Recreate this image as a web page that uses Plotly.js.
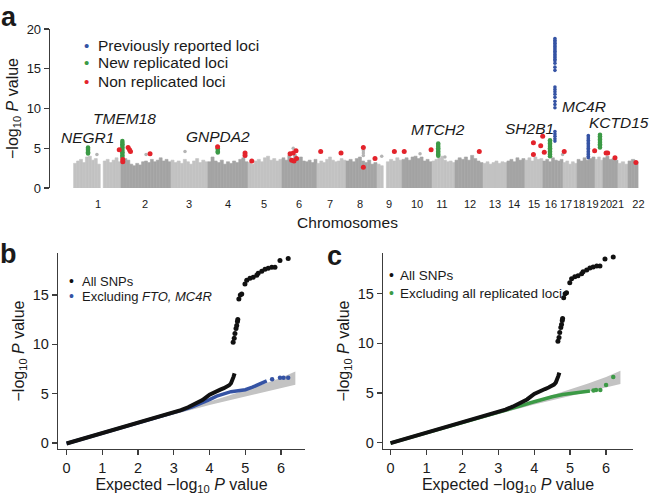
<!DOCTYPE html>
<html><head><meta charset="utf-8">
<script src="https://cdn.plot.ly/plotly-3.0.1.min.js"></script>
<style>html,body{margin:0;padding:0;background:#fff}#chart{width:650px;height:501px}</style>
</head><body><div id="chart"></div>
<script>
// ---------- Panel a: Manhattan plot (cumulative genome position, Mb) ----------
const chromNames = ['1','2','3','4','5','6','7','8','9','10','11','12','13','14','15','16','17','18','19','20','21','22'];
const chromStartMb = [0,240,493,680,883,1055,1232,1379,1536,1663,1815,1931,2073,2194,2285,2376,2478,2549,2640,2680,2756,2807];
const chromEndMb   = [240,493,680,883,1055,1232,1379,1536,1663,1815,1931,2073,2194,2285,2376,2478,2549,2640,2680,2756,2807,2858];
const chromLabelMb = [124,362,584,782,964,1141,1298,1450,1597,1739,1865,2007,2133,2230,2331,2417,2493,2559,2627,2696,2756,2860];
// upper envelope of the dense grey SNP cloud, read left to right within each chromosome (null = no SNPs)
const chromTopValues = [
  [3.1,3.4,3.6,3.2,3.9,4.0,3.5,3.7,3.0,null,3.4,3.6,3.2,3.5,3.8,3.3],
  [3.9,3.7,3.5,3.0,2.8,3.1,2.9,3.3,3.4,3.2,3.6,3.3,3.5,3.8,3.4,3.6,3.3],
  [3.5,3.2,3.4,3.1,3.6,3.3,3.0,3.4,3.7,3.2,3.5,3.3],
  [3.3,3.9,3.4,3.2,3.5,3.0,3.3,3.1,3.4,3.2,3.6,3.8,3.3],
  [3.2,3.0,3.4,3.6,3.3,3.8,4.0,3.5,3.7,3.4,3.6],
  [3.8,3.5,4.1,3.7,4.2,3.6,3.9,3.4,3.3,3.5,3.2,3.6],
  [3.1,3.4,3.2,3.6,3.9,3.5,3.3,3.4,3.7,3.5],
  [3.4,3.6,3.3,3.7,3.9,3.4,3.2,3.5,3.0,3.2],
  [3.0,2.8,null,3.3,3.6,3.4,3.8,3.5],
  [3.6,3.8,3.5,3.9,4.0,3.7,3.9,3.4,3.6,3.3],
  [3.4,3.6,3.8,4.0,3.5,3.3,3.4,3.2],
  [3.5,3.8,3.6,3.9,3.5,4.1,3.7,3.4,3.2],
  [3.1,3.3,3.0,3.2,3.4,3.1,3.3,3.2],
  [3.4,3.6,3.3,3.8,3.5,3.7],
  [3.5,3.8,3.4,3.9,3.6,3.7],
  [3.4,3.6,3.3,3.8,3.5,3.4,3.6],
  [3.2,3.4,3.0,3.3,3.1],
  [3.6,3.4,3.8,3.5,3.7,3.9],
  [3.6,3.9,3.5],
  [3.8,4.0,3.6,3.7,3.5],
  [3.1,3.3,3.0],
  [3.4,3.6,3.3]
];
const otherSnpMb   = [118,367,564,1112,1467,1467,1467,1560,1754,1880,2476];
const otherSnpLogP = [4.2,4.2,4.6,5.0,4.7,4.4,4.1,4.0,4.3,3.9,4.2];

// previously reported loci (blue)
const prevLociNames = ['FTO','MC4R'];
const prevLociMb = [2437, 2606];
const prevLociLogP = [
  [18.8,18.6,18.4,18.2,18.0,17.8,17.6,17.4,17.2,17.0,16.8,16.6,16.4,16.2,16.0,15.7,15.2,14.8,12.7,12.4,12.1,11.8,11.4,10.9,10.5,10.1,7.1,6.8,6.5,6.2,5.9],
  [6.6,6.4,6.2,6.0,5.8,5.6,5.4,5.2,5.0,4.8,4.6,4.4,4.2,4.0,3.8]
];
// new replicated loci (green)
const newLociNames = ['NEGR1','TMEM18','GNPDA2','MTCH2','SH2B1','KCTD15'];
const newLociMb = [73, 247, 730, 1846, 2412, 2665];
const newLociLogP = [
  [5.1,4.95,4.8,4.65,4.5,4.35],
  [5.9,5.7,5.5,5.3,5.1,4.9,4.7,4.5,4.3,4.1,3.9],
  [5.0,4.8,4.6,4.45],
  [5.6,5.4,5.2,5.0,4.8,4.6,4.4,4.2,4.05],
  [6.0,5.8,5.6,5.4,5.2,5.0,4.8,4.6,4.4,4.2,4.0],
  [6.7,6.5,6.3,6.1,5.9,5.7,5.5,5.3,5.1]
];
// non replicated loci (red)
const nonRepMb   = [231,249,249,276,283,288,387,729,868,868,902,1096,1104,1112,1116,1126,1129,1251,1354,1467,1467,1526,1624,1674,1810,2054,2328,2328,2365,2375,2383,2484,2638,2696,2704,2741,2847];
const nonRepLogP = [4.8,3.6,3.3,5.1,4.8,4.6,4.3,5.2,4.4,4.1,3.4,4.3,3.5,4.4,3.4,4.7,3.7,4.6,4.4,5.1,2.6,3.7,4.6,4.6,4.8,4.6,5.7,4.2,5.3,6.5,4.5,4.6,4.7,4.4,4.4,3.8,3.2];
// gene labels
const geneLabels    = ['NEGR1','TMEM18','GNPDA2','MTCH2','SH2B1','FTO','MC4R','KCTD15'];
const geneLabelMb   = [68, 260, 731, 1845, 2306, 2425, 2584, 2761];
const geneLabelLogP = [6.4, 8.8, 6.5, 7.3, 7.5, 21.1, 10.2, 8.2];

// ---------- Panels b, c: QQ plots ----------
const qqAllX = [0,0.5,1,1.5,2,2.5,3,3.2,3.4,3.6,3.8,4.0,4.1,4.2,4.3,4.4,4.5,4.55,4.6,4.64,4.67,4.7];
const qqAllY = [-0.05,0.48,0.98,1.48,1.98,2.5,3.03,3.33,3.62,3.95,4.35,4.9,5.1,5.25,5.4,5.55,5.7,5.85,6.05,6.35,6.7,7.05];
const qqAllTopX = [4.66,4.69,4.71,4.74,4.76,4.78,4.79,4.82,4.86,4.9,4.99,5.04,5.13,5.22,5.32,5.36,5.46,5.55,5.64,5.74,5.83,5.97,6.2];
const qqAllTopY = [10.2,10.6,11.1,11.6,11.9,12.3,12.5,14.6,15.0,15.1,16.1,16.5,16.7,16.8,17.0,17.2,17.4,17.6,17.7,17.8,17.8,18.5,18.7];
const qqExclFtoX = [0,1,2,3,3.3,3.5,3.7,3.9,4.0,4.2,4.4,4.6,4.8,5.0,5.2,5.4,5.6];
const qqExclFtoY = [-0.05,0.98,1.98,3.03,3.4,3.63,3.92,4.22,4.4,4.75,5.0,5.2,5.3,5.4,5.65,6.0,6.3];
const qqExclFtoTailX = [5.75,5.97,6.07,6.2];
const qqExclFtoTailY = [6.45,6.6,6.6,6.6];
const qqExclRepX = [0,1,2,3,3.3,3.6,3.9,4.2,4.5,4.8,5.1,5.4,5.55];
const qqExclRepY = [-0.05,0.98,1.98,3.0,3.33,3.68,4.02,4.33,4.62,4.85,5.02,5.15,5.2];
const qqExclRepTailX = [5.65,5.72,5.84,6.0,6.2];
const qqExclRepTailY = [5.25,5.3,5.3,5.8,6.6];
const ciX     = [0,1,2,2.5,3,3.5,4,4.5,5,5.5,6,6.4];
const ciLower = [0,0.97,1.95,2.44,2.92,3.38,3.84,4.28,4.7,5.1,5.5,5.9];
const ciUpper = [0,1.03,2.06,2.58,3.1,3.64,4.2,4.76,5.34,5.95,6.6,7.25];

// ---------- styles ----------
const FONT = 'Liberation Sans, Arial, Helvetica, sans-serif';
const AX = '#3c3c3c';
const BLUE = '#3553a4', GREEN = '#3c9a46', RED = '#e3232b', BLACK = '#111111';
const LIGHT = '#c2c2c2', DARK = '#a4a4a4', BAND = '#c3c3c3';
const W = 650, H = 501;
const px = v => v / W, py = v => 1 - v / H;

const traces = [];
// grey cloud as bars
chromTopValues.forEach((vals, i) => {
  const w = (chromEndMb[i] - chromStartMb[i]) / vals.length;
  const xs = vals.map((_, j) => chromStartMb[i] + (j + 0.5) * w);
  const col = (i % 2 === 0) ? LIGHT : DARK;
  traces.push({type:'bar', x:xs, y:vals, width:w, xaxis:'x', yaxis:'y',
    marker:{color:col, line:{color:col, width:0.6}}, hoverinfo:'skip', showlegend:false});
});
traces.push({type:'scatter', mode:'markers', x:otherSnpMb, y:otherSnpLogP, xaxis:'x', yaxis:'y',
  marker:{color:'#b4b4b4', size:3.5}, hoverinfo:'skip', showlegend:false});
function locusTrace(mbs, lists, color, size) {
  const xs = [], ys = [];
  lists.forEach((l, i) => l.forEach(v => { xs.push(mbs[i]); ys.push(v); }));
  return {type:'scatter', mode:'markers', x:xs, y:ys, xaxis:'x', yaxis:'y',
    marker:{color:color, size:size}, showlegend:false, cliponaxis:false};
}
traces.push(locusTrace(newLociMb, newLociLogP, GREEN, 4.5));
traces.push({type:'scatter', mode:'markers', x:nonRepMb, y:nonRepLogP, xaxis:'x', yaxis:'y',
  marker:{color:RED, size:5}, showlegend:false});
traces.push(locusTrace(prevLociMb, prevLociLogP, BLUE, 3.6));

// QQ panels
function qqTraces(xa, ya, exX, exY, exTX, exTY, col) {
  return [
    {type:'scatter', mode:'lines', x:ciX, y:ciLower, xaxis:xa, yaxis:ya, line:{width:0, color:BAND}, hoverinfo:'skip', showlegend:false},
    {type:'scatter', mode:'lines', x:ciX, y:ciUpper, xaxis:xa, yaxis:ya, fill:'tonexty', fillcolor:BAND, line:{width:0, color:BAND}, hoverinfo:'skip', showlegend:false},
    {type:'scatter', mode:'lines', x:exX, y:exY, xaxis:xa, yaxis:ya, line:{width:3.5, color:col}, showlegend:false},
    {type:'scatter', mode:'markers', x:exTX, y:exTY, xaxis:xa, yaxis:ya, marker:{size:4.5, color:col}, showlegend:false},
    {type:'scatter', mode:'lines', x:qqAllX, y:qqAllY, xaxis:xa, yaxis:ya, line:{width:4, color:BLACK}, showlegend:false},
    {type:'scatter', mode:'markers', x:qqAllTopX, y:qqAllTopY, xaxis:xa, yaxis:ya, marker:{size:5, color:BLACK}, showlegend:false, cliponaxis:false}
  ];
}
traces.push(...qqTraces('x2','y2', qqExclFtoX, qqExclFtoY, qqExclFtoTailX, qqExclFtoTailY, BLUE));
traces.push(...qqTraces('x3','y3', qqExclRepX, qqExclRepY, qqExclRepTailX, qqExclRepTailY, GREEN));

const yTitle = '\u2212log<sub>10</sub> <i>P</i> value';
const qqAxisX = (dom, rng, anchor) => ({domain:dom, range:rng, anchor:anchor, showline:true, linecolor:AX, linewidth:1.3,
  ticks:'outside', ticklen:5, tickwidth:1.3, tickcolor:AX, tickvals:[0,1,2,3,4,5,6], tickfont:{size:14.5},
  showgrid:false, zeroline:false, automargin:false,
  title:{text:'Expected \u2212log<sub>10</sub> <i>P</i> value', font:{size:16}, standoff:0}});
const qqAxisY = (dom, rng, anchor) => ({domain:dom, range:rng, anchor:anchor, showline:true, linecolor:AX, linewidth:1.3,
  ticks:'outside', ticklen:5, tickwidth:1.3, tickcolor:AX, tickvals:[0,5,10,15], tickfont:{size:14.5},
  showgrid:false, zeroline:false, automargin:false,
  title:{text:yTitle, font:{size:16}, standoff:4}});

const ann = [];
function text(x, y, t, size, opts) {
  ann.push(Object.assign({xref:'paper', yref:'paper', x:px(x), y:py(y), text:t, showarrow:false,
    xanchor:'center', yanchor:'middle', font:{size:size, family:FONT, color:'#1a1a1a'}}, opts || {}));
}
// panel letters
text(9, 17, '<b>a</b>', 27);
text(8, 254, '<b>b</b>', 27);
text(335, 256, '<b>c</b>', 27);
// legend a
const legA = [['Previously reported loci', BLUE, 45], ['New replicated loci', GREEN, 63], ['Non replicated loci', RED, 81]];
legA.forEach(r => { text(86, r[2], '\u2022', 15, {font:{size:15, family:FONT, color:r[1]}}); text(96, r[2], r[0], 15.5, {xanchor:'left'}); });
// legend b
text(71, 281, '\u2022', 14, {font:{size:14, family:FONT, color:BLACK}});
text(80, 281, 'All SNPs', 13, {xanchor:'left'});
text(71, 296, '\u2022', 14, {font:{size:14, family:FONT, color:BLUE}});
text(80, 296, 'Excluding <i>FTO, MC4R</i>', 13, {xanchor:'left'});
// legend c
text(391, 275, '\u2022', 14, {font:{size:14, family:FONT, color:BLACK}});
text(398, 275, 'All SNPs', 13.5, {xanchor:'left'});
text(391, 293, '\u2022', 14, {font:{size:14, family:FONT, color:GREEN}});
text(398, 293, 'Excluding all replicated loci', 13.5, {xanchor:'left'});
// gene labels (data coordinates)
geneLabels.forEach((g, i) => ann.push({xref:'x', yref:'y', x:geneLabelMb[i], y:geneLabelLogP[i], text:'<i>' + g + '</i>',
  showarrow:false, xanchor:'center', yanchor:'middle', font:{size:15.5, family:FONT, color:'#1a1a1a'}}));

const layout = {
  width:W, height:H, margin:{l:0, r:0, t:0, b:0}, paper_bgcolor:'#ffffff', plot_bgcolor:'rgba(0,0,0,0)',
  font:{family:FONT, color:'#1a1a1a', size:14}, showlegend:false, barmode:'overlay', bargap:0,
  xaxis:{domain:[px(50), px(645)], range:[-119.5, 2893], anchor:'y', showline:false, showgrid:false, zeroline:false,
    ticks:'', tickvals:chromLabelMb, ticktext:chromNames, tickfont:{size:11}, tickangle:0, ticklabelstandoff:8, automargin:false,
    title:{text:'Chromosomes', font:{size:15.5}, standoff:8}},
  yaxis:{domain:[py(188), py(29)], range:[0, 20], anchor:'x', showline:true, linecolor:AX, linewidth:1.3,
    ticks:'outside', ticklen:5, tickwidth:1.3, tickcolor:AX, tickvals:[0,5,10,15,20], tickfont:{size:13},
    showgrid:false, zeroline:false, automargin:false, title:{text:yTitle, font:{size:16}, standoff:4}},
  xaxis2:qqAxisX([px(58), px(305)], [-0.24, 6.67], 'y2'),
  yaxis2:qqAxisY([py(449), py(253)], [-0.61, 19.25], 'x2'),
  xaxis3:qqAxisX([px(383), px(633)], [-0.21, 6.75], 'y3'),
  yaxis3:qqAxisY([py(449), py(253)], [-0.64, 19.1], 'x3'),
  annotations:ann
};
Plotly.newPlot('chart', traces, layout, {displayModeBar:false, staticPlot:true});
</script></body></html>
